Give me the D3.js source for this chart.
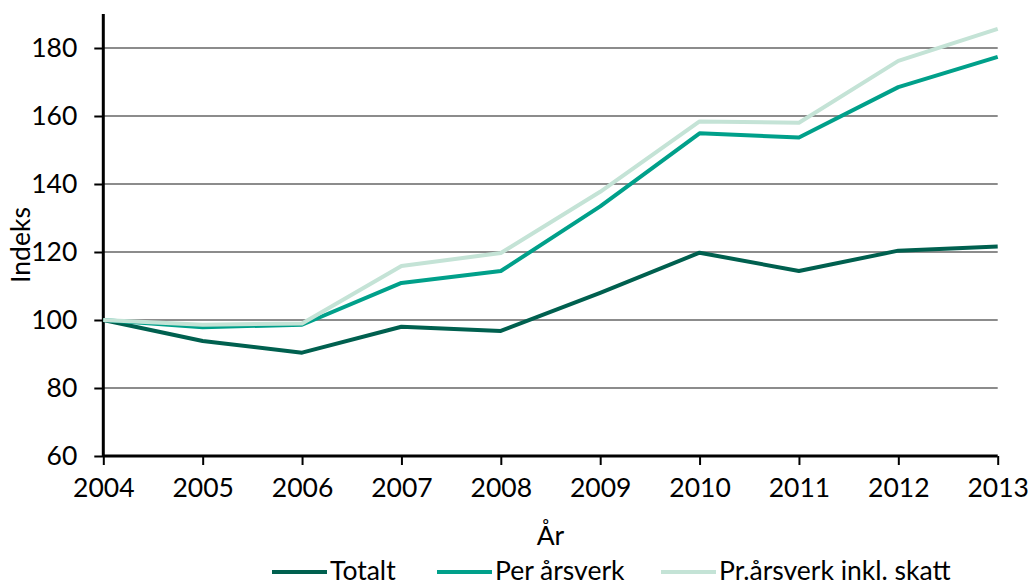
<!DOCTYPE html>
<html><head><meta charset="utf-8">
<script src="https://cdn.jsdelivr.net/npm/d3@7"></script>
<style>body{margin:0;background:#fff}svg{display:block}text{font-family:Lato,"Open Sans",sans-serif;fill:#000}</style>
</head><body><svg id="c" width="1029" height="586"></svg>
<script>
const years = [2004,2005,2006,2007,2008,2009,2010,2011,2012,2013];
const totalt = [100,93.8,90.4,98.0,96.8,108.0,119.8,114.4,120.4,121.6];
const perArsverk = [100,97.9,98.6,110.9,114.4,133.4,154.9,153.7,168.5,177.4];
const prInklSkatt = [100,98.6,99.0,115.9,119.7,137.7,158.4,158.0,176.2,185.6];
const seriesNames = ["Totalt","Per årsverk","Pr.årsverk inkl. skatt"];
const seriesColors = ["#00604f","#00a08a","#c4e3d6"];
const yTicks = [60,80,100,120,140,160,180];

const svg = d3.select("#c");
const x = d3.scaleLinear().domain([2004,2013]).range([103.3,997.7]);
const y = d3.scaleLinear().domain([60,190]).range([456,14]);
const fs = 26.5;

// gridlines
svg.append("g").selectAll("line").data(yTicks.filter(v=>v>60)).join("line")
  .attr("x1",x(2004)).attr("x2",x(2013)).attr("y1",d=>y(d)).attr("y2",d=>y(d))
  .attr("stroke","#8c8c8c").attr("stroke-width",2);

// y axis
const ya = svg.append("g").attr("transform",`translate(${x(2004)},0)`)
  .call(d3.axisLeft(y).tickValues(yTicks).tickSize(9).tickPadding(17).tickFormat(d3.format("d")));
ya.select(".domain").attr("d",`M0,${y(60)}V${y(190)}`).attr("stroke","#000").attr("stroke-width",3);
ya.selectAll(".tick line").attr("stroke","#000").attr("stroke-width",2);
ya.selectAll("text").attr("font-size",fs).attr("font-family","Lato").attr("fill","#000");

// x axis
const xa = svg.append("g").attr("transform",`translate(0,${y(60)})`)
  .call(d3.axisBottom(x).tickValues(years).tickSize(9).tickPadding(13).tickFormat(d3.format("d")));
xa.select(".domain").attr("d",`M${x(2004)},0H${x(2013)}`).attr("stroke","#000").attr("stroke-width",3);
xa.selectAll(".tick line").attr("stroke","#000").attr("stroke-width",2);
xa.selectAll("text").attr("font-size",fs).attr("font-family","Lato").attr("fill","#000");

// lines
const data = [totalt, perArsverk, prInklSkatt];
const line = d3.line().x((d,i)=>x(years[i])).y(d=>y(d));
svg.append("g").selectAll("path").data(data).join("path")
  .attr("d",line).attr("fill","none")
  .attr("stroke",(d,i)=>seriesColors[i]).attr("stroke-width",4).attr("stroke-linejoin","round");

// axis titles
svg.append("text").attr("x",(x(2004)+x(2013))/2).attr("y",545).attr("text-anchor","middle")
  .attr("font-size",fs).text("År");
svg.append("text").attr("transform",`translate(30,245) rotate(-90)`).attr("text-anchor","middle")
  .attr("font-size",fs).text("Indeks");

// legend
const legX = [272,437,661];
const lg = svg.append("g").selectAll("g").data(seriesNames).join("g")
  .attr("transform",(d,i)=>`translate(${legX[i]},572)`);
lg.append("line").attr("x1",0).attr("x2",55).attr("stroke",(d,i)=>seriesColors[i]).attr("stroke-width",4);
lg.append("text").attr("x",58).attr("y",8).attr("font-size",fs).text(d=>d);
</script></body></html>
